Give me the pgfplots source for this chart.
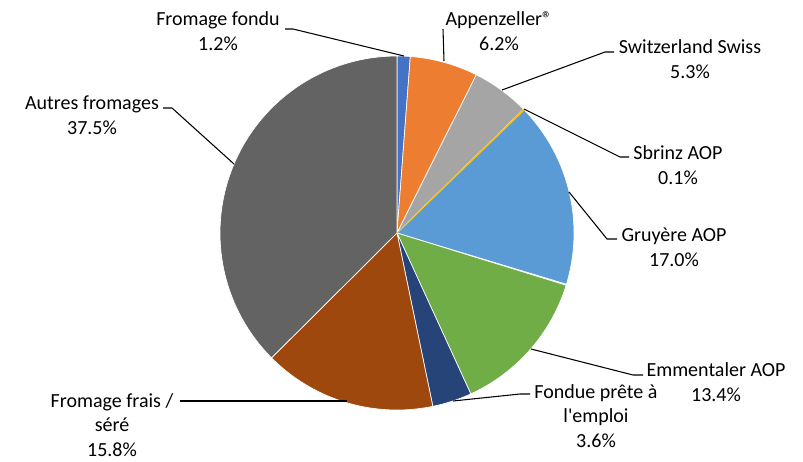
\documentclass[border=0pt]{standalone}
\usepackage{pgfplots}
\pgfplotsset{compat=1.18}
\usepackage{fontspec}
\setmainfont{Carlito}
\definecolor{c1}{HTML}{4472C4}
\definecolor{c2}{HTML}{ED7D31}
\definecolor{c3}{HTML}{A5A5A5}
\definecolor{c4}{HTML}{FFC000}
\definecolor{c5}{HTML}{5B9BD5}
\definecolor{c6}{HTML}{70AD47}
\definecolor{c7}{HTML}{264478}
\definecolor{c8}{HTML}{9E480E}
\definecolor{c9}{HTML}{636363}
% slice: #1 = cumulative share before slice (%), #2 = share (%), #3 = colour, #4 = border
\newcommand{\slice}[4]{%
  \addplot[fill=#3, draw=#4, line width=0.5pt,
    domain={90-3.6*(#1+#2)*100/100.1}:{90-3.6*(#1)*100/100.1},
    samples=90, variable=\t]
  ({397+177*cos(\t)},{233-177*sin(\t)}) -- (axis cs:397,233) -- cycle;}
\newcommand{\lbl}{\fontsize{15}{18.4}\selectfont}
\newcommand{\apos}{\XeTeXglyph\XeTeXcharglyph"27 }
\begin{document}
\begin{tikzpicture}
\begin{axis}[
  scale only axis, width=602.25pt, height=345pt,
  xmin=0, xmax=803, ymin=0, ymax=460, y dir=reverse,
  hide axis, clip=false]
\path (rel axis cs:0,0) rectangle (rel axis cs:1,1);
% values: Fromage fondu 1.2, Appenzeller 6.2, Switzerland Swiss 5.3, Sbrinz 0.1,
% Gruyere 17.0, Emmentaler 13.4, Fondue 3.6, Fromage frais 15.8, Autres 37.5
\slice{0}{1.2}{c1}{white}
\slice{1.2}{6.2}{c2}{white}
\slice{7.4}{5.3}{c3}{white}
\slice{12.7}{17.0}{c5}{white}
\slice{29.8}{13.4}{c6}{white}
\slice{43.2}{3.6}{c7}{white}
\slice{46.8}{15.8}{c8}{white}
\slice{62.6}{37.5}{c9}{white}
\slice{12.7}{0.1}{c4}{c4}
% leader lines
\addplot[black, line width=0.8pt, no marks] coordinates {(285,29) (293,29) (404,56)};
\addplot[black, line width=0.8pt, no marks] coordinates {(443,29) (444,61)};
\addplot[black, line width=0.8pt, no marks] coordinates {(614,52) (605,52) (502,90)};
\addplot[black, line width=0.8pt, no marks] coordinates {(524,109) (620,157) (629,157)};
\addplot[black, line width=0.8pt, no marks] coordinates {(569,192) (607,239) (617,239)};
\addplot[black, line width=0.8pt, no marks] coordinates {(531,349) (633,375) (643,375)};
\addplot[black, line width=0.8pt, no marks] coordinates {(453,401) (520,394) (530,394)};
\addplot[black, line width=0.8pt, no marks] coordinates {(180,401) (347,401)};
\addplot[black, line width=0.8pt, no marks] coordinates {(163,108) (172,108) (234,164)};
% labels
\node[align=center, font=\lbl] at (axis cs:218,31) {Fromage fondu\\1.2\%};
\node[align=center, font=\lbl] at (axis cs:499,31) {Appenzeller®\\6.2\%};
\node[align=center, font=\lbl] at (axis cs:690,59) {Switzerland Swiss\\5.3\%};
\node[align=center, font=\lbl] at (axis cs:678,165) {Sbrinz AOP\\0.1\%};
\node[align=center, font=\lbl] at (axis cs:674,247) {Gruyère AOP\\17.0\%};
\node[align=center, font=\lbl] at (axis cs:716,382) {Emmentaler AOP\\13.4\%};
\node[align=center, font=\lbl] at (axis cs:596,416) {Fondue prête à\\l\apos emploi\\3.6\%};
\node[align=center, font=\lbl] at (axis cs:112,425) {Fromage frais /\\séré\\15.8\%};
\node[align=center, font=\lbl] at (axis cs:92,115) {Autres fromages\\37.5\%};
\end{axis}
\end{tikzpicture}
\end{document}
